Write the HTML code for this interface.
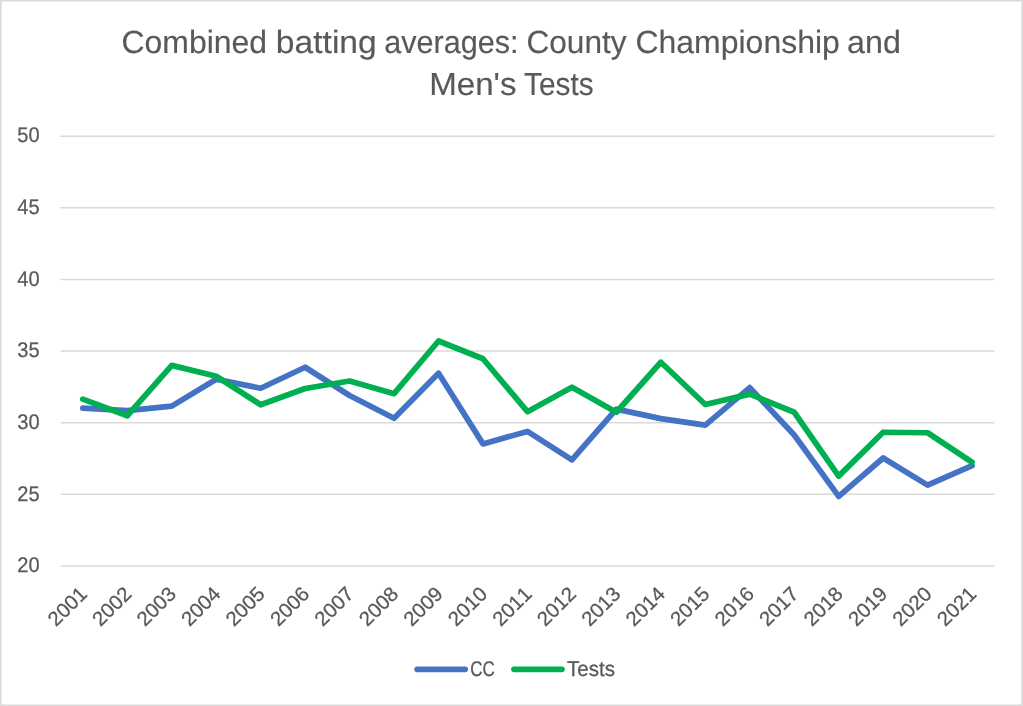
<!DOCTYPE html>
<html lang="en"><head><meta charset="utf-8"><title>Combined batting averages: County Championship and Men's Tests</title>
<style>html,body{margin:0;padding:0;background:#fff;}body{width:1023px;height:706px;overflow:hidden;}svg{display:block;}text{font-family:"Liberation Sans",sans-serif;text-rendering:geometricPrecision;fill:#595959;stroke:#595959;stroke-width:0.25px;}#title text{stroke-width:0.15px;}#xlabels text,#ylabels text{font-kerning:none;}</style></head><body>
<svg width="1023" height="706" viewBox="0 0 1023 706">
<rect x="0" y="0" width="1023" height="706" fill="#ffffff"/>
<rect x="0.8" y="0.8" width="1021.4" height="704.4" fill="none" stroke="#D9D9D9" stroke-width="1.6" stroke-linejoin="round"/>
<g id="title">
<text transform="translate(121.50,52.75) scale(0.9980,1)" font-size="32.0">Combined</text>
<text transform="translate(275.87,52.75) scale(1.0495,1)" font-size="32.0">batting</text>
<text transform="translate(384.17,52.75) scale(0.9562,1)" font-size="32.0">averages:</text>
<text transform="translate(526.42,52.75) scale(0.9876,1)" font-size="32.0">County</text>
<text transform="translate(635.40,52.75) scale(0.9995,1)" font-size="32.0">Championship</text>
<text transform="translate(847.10,52.75) scale(1.0066,1)" font-size="32.0">and</text>
<text transform="translate(429.14,95.25) scale(1.0350,1)" font-size="32.0">Men&#39;s</text>
<text transform="translate(524.05,95.25) scale(0.9313,1)" font-size="32.0">Tests</text>
</g>
<g id="grid" stroke="#D9D9D9" stroke-width="1.5">
<line x1="60.6" y1="136.20" x2="994.3" y2="136.20"/>
<line x1="60.6" y1="207.82" x2="994.3" y2="207.82"/>
<line x1="60.6" y1="279.45" x2="994.3" y2="279.45"/>
<line x1="60.6" y1="351.08" x2="994.3" y2="351.08"/>
<line x1="60.6" y1="422.70" x2="994.3" y2="422.70"/>
<line x1="60.6" y1="494.33" x2="994.3" y2="494.33"/>
<line x1="60.6" y1="565.95" x2="994.3" y2="565.95"/>
</g>
<g id="ylabels">
<text transform="translate(17.28,142.40) scale(0.948,1)" font-size="21.2">50</text>
<text transform="translate(17.35,214.02) scale(0.948,1)" font-size="21.2">45</text>
<text transform="translate(17.28,285.65) scale(0.948,1)" font-size="21.2">40</text>
<text transform="translate(17.35,357.28) scale(0.948,1)" font-size="21.2">35</text>
<text transform="translate(17.28,428.90) scale(0.948,1)" font-size="21.2">30</text>
<text transform="translate(17.35,500.53) scale(0.948,1)" font-size="21.2">25</text>
<text transform="translate(17.28,572.15) scale(0.948,1)" font-size="21.2">20</text>
</g>
<g id="series">
<polyline points="82.83,408.10 127.29,410.70 171.75,406.10 216.22,379.20 260.68,388.25 305.14,367.25 349.60,395.50 394.06,418.25 438.53,373.20 482.99,443.90 527.45,431.40 571.91,459.90 616.37,409.10 660.84,418.60 705.30,425.10 749.76,387.60 794.22,435.00 838.68,496.40 883.15,458.00 927.61,485.10 972.07,465.60" fill="none" stroke="#4472C4" stroke-width="5.75" stroke-linecap="round" stroke-linejoin="round"/>
<polyline points="82.83,399.10 127.29,415.75 171.75,365.40 216.22,376.25 260.68,404.75 305.14,388.50 349.60,381.00 394.06,393.70 438.53,341.00 482.99,358.75 527.45,411.70 571.91,387.25 616.37,412.25 660.84,362.25 705.30,404.50 749.76,394.10 794.22,412.25 838.68,476.10 883.15,432.25 927.61,432.75 972.07,462.25" fill="none" stroke="#00B050" stroke-width="5.75" stroke-linecap="round" stroke-linejoin="round"/>
</g>
<g id="xlabels">
<text transform="translate(88.33,595.1) rotate(-45) scale(1.015,1)" text-anchor="end" font-size="20.2">2001</text>
<text transform="translate(132.79,595.1) rotate(-45) scale(1.015,1)" text-anchor="end" font-size="20.2">2002</text>
<text transform="translate(177.25,595.1) rotate(-45) scale(1.015,1)" text-anchor="end" font-size="20.2">2003</text>
<text transform="translate(221.72,595.1) rotate(-45) scale(1.015,1)" text-anchor="end" font-size="20.2">2004</text>
<text transform="translate(266.18,595.1) rotate(-45) scale(1.015,1)" text-anchor="end" font-size="20.2">2005</text>
<text transform="translate(310.64,595.1) rotate(-45) scale(1.015,1)" text-anchor="end" font-size="20.2">2006</text>
<text transform="translate(355.10,595.1) rotate(-45) scale(1.015,1)" text-anchor="end" font-size="20.2">2007</text>
<text transform="translate(399.56,595.1) rotate(-45) scale(1.015,1)" text-anchor="end" font-size="20.2">2008</text>
<text transform="translate(444.03,595.1) rotate(-45) scale(1.015,1)" text-anchor="end" font-size="20.2">2009</text>
<text transform="translate(488.49,595.1) rotate(-45) scale(1.015,1)" text-anchor="end" font-size="20.2">2010</text>
<text transform="translate(532.95,595.1) rotate(-45) scale(1.015,1)" text-anchor="end" font-size="20.2">2011</text>
<text transform="translate(577.41,595.1) rotate(-45) scale(1.015,1)" text-anchor="end" font-size="20.2">2012</text>
<text transform="translate(621.87,595.1) rotate(-45) scale(1.015,1)" text-anchor="end" font-size="20.2">2013</text>
<text transform="translate(666.34,595.1) rotate(-45) scale(1.015,1)" text-anchor="end" font-size="20.2">2014</text>
<text transform="translate(710.80,595.1) rotate(-45) scale(1.015,1)" text-anchor="end" font-size="20.2">2015</text>
<text transform="translate(755.26,595.1) rotate(-45) scale(1.015,1)" text-anchor="end" font-size="20.2">2016</text>
<text transform="translate(799.72,595.1) rotate(-45) scale(1.015,1)" text-anchor="end" font-size="20.2">2017</text>
<text transform="translate(844.18,595.1) rotate(-45) scale(1.015,1)" text-anchor="end" font-size="20.2">2018</text>
<text transform="translate(888.65,595.1) rotate(-45) scale(1.015,1)" text-anchor="end" font-size="20.2">2019</text>
<text transform="translate(933.11,595.1) rotate(-45) scale(1.015,1)" text-anchor="end" font-size="20.2">2020</text>
<text transform="translate(977.57,595.1) rotate(-45) scale(1.015,1)" text-anchor="end" font-size="20.2">2021</text>
</g>
<g id="legend">
<line x1="417.2" y1="669.3" x2="465.1" y2="669.3" stroke="#4472C4" stroke-width="5.75" stroke-linecap="round"/>
<text transform="translate(470.15,675.70) scale(0.7994,1)" font-size="21.3">CC</text>
<line x1="514.0" y1="669.3" x2="561.9" y2="669.3" stroke="#00B050" stroke-width="5.75" stroke-linecap="round"/>
<text transform="translate(567.02,675.70) scale(0.9655,1)" font-size="21.3">Tests</text>
</g>
</svg></body></html>
